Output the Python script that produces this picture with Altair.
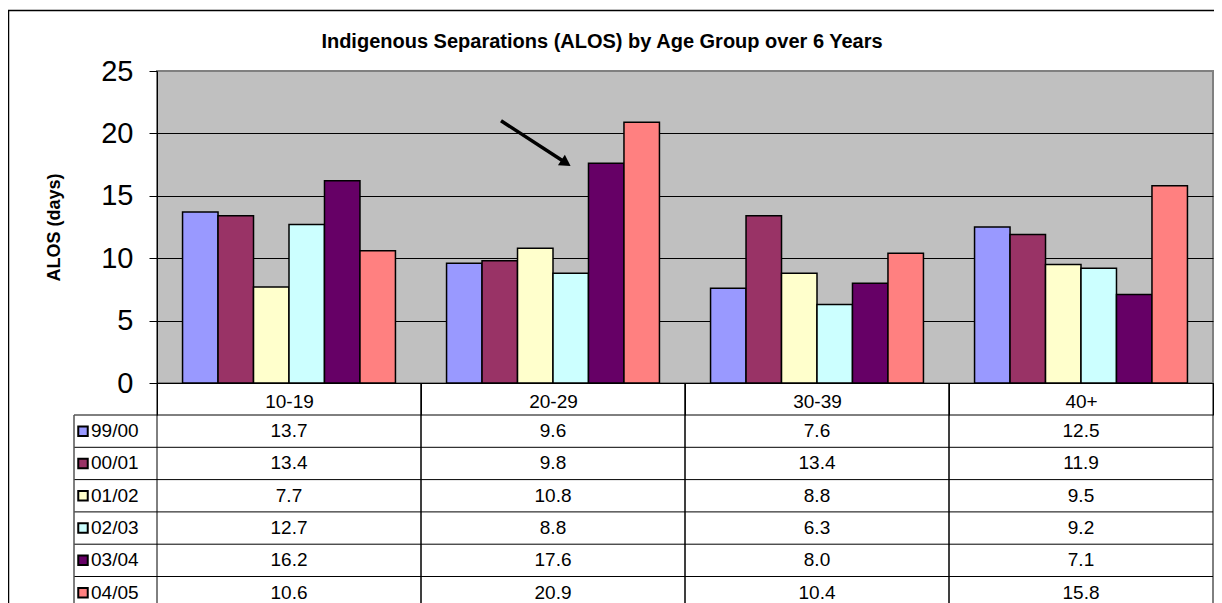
import altair as alt
import pandas as pd

ages = ["10-19", "20-29", "30-39", "40+"]
series = ["99/00", "00/01", "01/02", "02/03", "03/04", "04/05"]
v_9900 = [13.7, 9.6, 7.6, 12.5]
v_0001 = [13.4, 9.8, 13.4, 11.9]
v_0102 = [7.7, 10.8, 8.8, 9.5]
v_0203 = [12.7, 8.8, 6.3, 9.2]
v_0304 = [16.2, 17.6, 8.0, 7.1]
v_0405 = [10.6, 20.9, 10.4, 15.8]
colors = ["#9999FF", "#993366", "#FFFFCC", "#CCFFFF", "#660066", "#FF8080"]
y_ticks = [0, 5, 10, 15, 20, 25]

rows = []
for s, vals in zip(series, [v_9900, v_0001, v_0102, v_0203, v_0304, v_0405]):
    for a, v in zip(ages, vals):
        rows.append({"age": a, "series": s, "value": v})
df = pd.DataFrame(rows)
leg = pd.DataFrame({"series": series})
agedf = pd.DataFrame({"age": ages})
one = pd.DataFrame({"k": [0]})

W, H = 1056, 312
FONT = "Liberation Sans"
ROW0, ROWH = 344, 32.3

x_scale = alt.Scale(domain=ages, paddingInner=0, paddingOuter=0)
color = alt.Color("series:N", scale=alt.Scale(domain=series, range=colors), legend=None)

bars = alt.Chart(df).mark_bar(stroke="black", strokeWidth=1.5).encode(
    x=alt.X("age:N", sort=ages, scale=x_scale,
            axis=alt.Axis(title=None, orient="bottom", tickBand="extent", tickSize=32,
                          tickColor="black", domainColor="black", labelFontSize=19,
                          labelFont=FONT, labelColor="black", labelPadding=-23, labelAngle=0)),
    xOffset=alt.XOffset("series:N", sort=series, scale=alt.Scale(paddingInner=0, paddingOuter=0.72)),
    y=alt.Y("value:Q", scale=alt.Scale(domain=[0, 25], nice=False),
            axis=alt.Axis(values=y_ticks, title="ALOS (days)", labelFontSize=29, labelFont=FONT,
                          labelColor="black", tickColor="black", tickSize=8, labelPadding=16,
                          domainColor="black",
                          gridColor={"condition": {"test": "datum.value === 25", "value": "#808080"}, "value": "black"},
                          titleFontSize=18, titleFont=FONT, titleFontWeight="bold",
                          titleColor="black", titlePadding=37)),
    color=color,
)

border = alt.Chart(one).mark_rect(fillOpacity=0, stroke="black", strokeWidth=1.5).encode(
    x=alt.value(-148.5), y=alt.value(-60.5), x2=alt.value(1100), y2=alt.value(700))

arrow_line = alt.Chart(one).mark_rule(color="black", strokeWidth=3.5).encode(
    x=alt.value(344), y=alt.value(49.7), x2=alt.value(406), y2=alt.value(90))
arrow_head = alt.Chart(one).mark_point(shape="triangle-right", filled=True, color="black",
                                       opacity=1, size=160, angle=33).encode(
    x=alt.value(409), y=alt.value(92))

bars_layer = alt.layer(border, bars, arrow_line, arrow_head)

t_scale = alt.Scale(domain=series, range=[ROW0, ROW0 + ROWH * 6], paddingInner=0, paddingOuter=0)

row_lines = alt.Chart(leg).mark_rule(color="black", strokeWidth=1).encode(
    y=alt.Y("series:N", sort=series, scale=t_scale, bandPosition=0, axis=None),
    x=alt.value(-83), x2=alt.value(W))
col_start = alt.Chart(agedf).mark_rule(color="black", strokeWidth=1).encode(
    x=alt.X("age:N", sort=ages, bandPosition=0), y=alt.value(H), y2=alt.value(620))
col_end = alt.Chart(agedf).mark_rule(color="black", strokeWidth=1).encode(
    x=alt.X("age:N", sort=ages, bandPosition=1), y=alt.value(H), y2=alt.value(620))
left_line = alt.Chart(one).mark_rule(color="#555555", strokeWidth=1.5).encode(
    x=alt.value(-83), y=alt.value(ROW0), y2=alt.value(620))
cells = alt.Chart(df).mark_text(fontSize=19, font=FONT, color="black").encode(
    x=alt.X("age:N", sort=ages),
    y=alt.Y("series:N", sort=series, scale=t_scale, axis=None),
    text=alt.Text("value:Q", format=".1f"))
labels = alt.Chart(leg).mark_text(align="left", fontSize=19, font=FONT, color="black").encode(
    x=alt.value(-66),
    y=alt.Y("series:N", sort=series, scale=t_scale, axis=None),
    text="series:N")
swatches = alt.Chart(leg).mark_square(size=90, stroke="black", strokeWidth=2, opacity=1, filled=True).encode(
    x=alt.value(-74),
    y=alt.Y("series:N", sort=series, scale=t_scale, axis=None),
    color=color)

table_layer = alt.layer(row_lines, col_start, col_end, left_line, cells, labels, swatches)

chart = alt.layer(bars_layer, table_layer).resolve_scale(y="independent").properties(
    width=W, height=H,
    title=alt.TitleParams("Indigenous Separations (ALOS) by Age Group over 6 Years",
                          fontSize=20, font=FONT, fontWeight="bold", color="black",
                          anchor="middle", frame="group", dx=-83, offset=-42),
    autosize=alt.AutoSizeParams(type="none"),
    padding={"left": 149, "top": 63, "right": 1, "bottom": 220},
    background="white",
).configure_view(fill="#C0C0C0", stroke="#808080", strokeWidth=2)

chart.save("out.html", embed_options={"renderer": "svg", "actions": False})
